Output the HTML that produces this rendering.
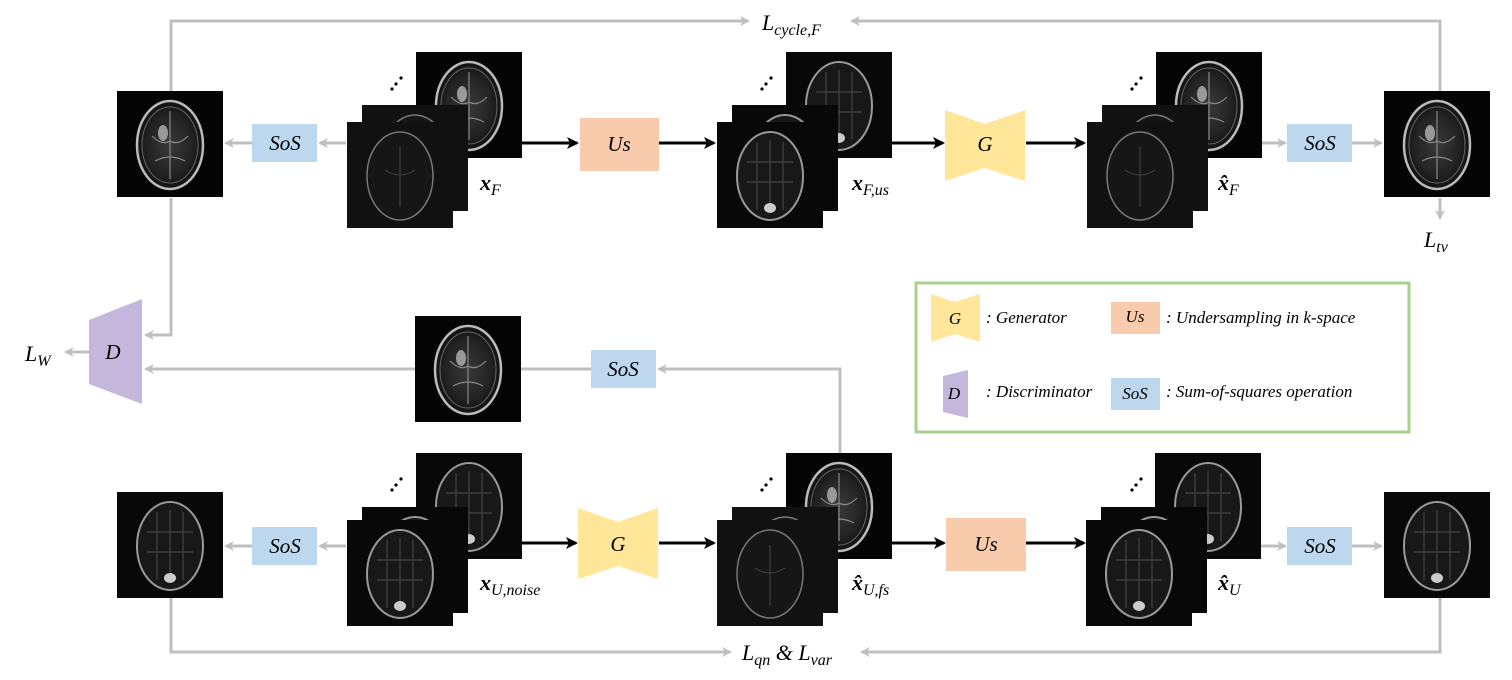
<!DOCTYPE html>
<html><head><meta charset="utf-8"><style>
html,body{margin:0;padding:0;background:#fff;}
svg{display:block;}
.m{font-family:"Liberation Serif",serif;font-style:italic;}
.b{font-weight:bold;}
.leg{font-family:"Liberation Serif",serif;font-style:italic;font-size:17px;}
</style></head><body>
<svg width="1512" height="680" viewBox="0 0 1512 680" xmlns="http://www.w3.org/2000/svg">
<defs>
<marker id="ag" markerWidth="10" markerHeight="10" refX="8" refY="5" orient="auto" markerUnits="userSpaceOnUse"><path d="M0,0 L10,5 L0,10 L3,5 z" fill="#bfbfbf"/></marker>
<marker id="ab" markerWidth="12" markerHeight="12" refX="10" refY="6" orient="auto" markerUnits="userSpaceOnUse"><path d="M0,0 L12,6 L0,12 L3,6 z" fill="#000"/></marker>
<radialGradient id="rg" cx="50%" cy="50%" r="50%"><stop offset="0" stop-color="#3a3a3a"/><stop offset="0.7" stop-color="#222"/><stop offset="1" stop-color="#111"/></radialGradient>
<symbol id="brain" viewBox="0 0 106 106"><rect width="106" height="106" fill="#050505"/><ellipse cx="53" cy="54" rx="33" ry="44" fill="url(#rg)" stroke="#bbb" stroke-width="2.5"/><ellipse cx="53" cy="54" rx="28" ry="38" fill="none" stroke="#666" stroke-width="1"/><path d="M53,20 V88 M35,45 Q45,55 53,50 Q61,55 71,45 M38,70 Q53,62 68,70" stroke="#888" stroke-width="1.2" fill="none"/><ellipse cx="46" cy="42" rx="5" ry="8" fill="#999"/></symbol>
<symbol id="brainU" viewBox="0 0 106 106"><rect width="106" height="106" fill="#080808"/><ellipse cx="53" cy="54" rx="33" ry="44" fill="#181818" stroke="#999" stroke-width="2"/><path d="M53,18 V90 M30,40 H76 M30,60 H76 M40,20 V88 M66,20 V88" stroke="#444" stroke-width="1.2" fill="none"/><ellipse cx="53" cy="86" rx="6" ry="5" fill="#ccc"/></symbol>
<symbol id="brainN" viewBox="0 0 106 106"><rect width="106" height="106" fill="#111"/><ellipse cx="53" cy="54" rx="33" ry="44" fill="#161616" stroke="#777" stroke-width="1.5"/><path d="M53,25 V85 M38,48 Q53,58 68,48" stroke="#444" stroke-width="1" fill="none"/></symbol>
</defs>

<g fill="none" stroke="#bfbfbf" stroke-width="3">
<polyline points="171,91 171,21 748,21" marker-end="url(#ag)"/>
<polyline points="1440,91 1440,21 852,21" marker-end="url(#ag)"/>
<line x1="1440" y1="198" x2="1440" y2="218" marker-end="url(#ag)"/>
<line x1="346" y1="143" x2="320" y2="143" marker-end="url(#ag)"/>
<line x1="252" y1="143" x2="226" y2="143" marker-end="url(#ag)"/>
<line x1="1192" y1="143" x2="1285" y2="143" marker-end="url(#ag)"/>
<line x1="1352" y1="143" x2="1381" y2="143" marker-end="url(#ag)"/>
<polyline points="171,198 171,335 146,335" marker-end="url(#ag)"/>
<line x1="591" y1="369" x2="146" y2="369" marker-end="url(#ag)"/>
<polyline points="840,453 840,369 659,369" marker-end="url(#ag)"/>
<line x1="89" y1="352" x2="66" y2="352" marker-end="url(#ag)"/>
<line x1="346" y1="546" x2="320" y2="546" marker-end="url(#ag)"/>
<line x1="252" y1="546" x2="226" y2="546" marker-end="url(#ag)"/>
<line x1="1261" y1="546" x2="1285" y2="546" marker-end="url(#ag)"/>
<line x1="1352" y1="546" x2="1381" y2="546" marker-end="url(#ag)"/>
<polyline points="171,598 171,652 730,652" marker-end="url(#ag)"/>
<polyline points="1440,598 1440,652 862,652" marker-end="url(#ag)"/>
</g>
<g stroke="#000" stroke-width="3">
<line x1="521" y1="143" x2="577" y2="143" marker-end="url(#ab)"/>
<line x1="659" y1="143" x2="714" y2="143" marker-end="url(#ab)"/>
<line x1="892" y1="143" x2="943" y2="143" marker-end="url(#ab)"/>
<line x1="1026" y1="143" x2="1084" y2="143" marker-end="url(#ab)"/>
<line x1="521" y1="543" x2="576" y2="543" marker-end="url(#ab)"/>
<line x1="659" y1="543" x2="714" y2="543" marker-end="url(#ab)"/>
<line x1="892" y1="543" x2="944" y2="543" marker-end="url(#ab)"/>
<line x1="1026" y1="543" x2="1084" y2="543" marker-end="url(#ab)"/>
</g>

<use href="#brain" x="117" y="91" width="106" height="106"/>
<use href="#brain" x="416" y="52" width="106" height="106"/>
<use href="#brainN" x="362" y="105" width="106" height="106"/>
<use href="#brainN" x="347" y="122" width="106" height="106"/>
<use href="#brainU" x="786" y="52" width="106" height="106"/>
<use href="#brainU" x="732" y="105" width="106" height="106"/>
<use href="#brainU" x="717" y="122" width="106" height="106"/>
<use href="#brain" x="1156" y="52" width="106" height="106"/>
<use href="#brainN" x="1102" y="105" width="106" height="106"/>
<use href="#brainN" x="1087" y="122" width="106" height="106"/>
<use href="#brain" x="1384" y="91" width="106" height="106"/>
<use href="#brain" x="415" y="316" width="106" height="106"/>
<use href="#brainU" x="117" y="492" width="106" height="106"/>
<use href="#brainU" x="416" y="453" width="106" height="106"/>
<use href="#brainU" x="362" y="507" width="106" height="106"/>
<use href="#brainU" x="347" y="520" width="106" height="106"/>
<use href="#brain" x="786" y="453" width="106" height="106"/>
<use href="#brainN" x="732" y="507" width="106" height="106"/>
<use href="#brainN" x="717" y="520" width="106" height="106"/>
<use href="#brainU" x="1155" y="453" width="106" height="106"/>
<use href="#brainU" x="1101" y="507" width="106" height="106"/>
<use href="#brainU" x="1086" y="520" width="106" height="106"/>
<use href="#brainU" x="1384" y="492" width="106" height="106"/>

<g fill="#000">
<circle cx="392" cy="89" r="1.6"/><circle cx="396" cy="84" r="1.6"/><circle cx="401" cy="78" r="1.6"/>
<circle cx="762" cy="89" r="1.6"/><circle cx="766" cy="84" r="1.6"/><circle cx="771" cy="78" r="1.6"/>
<circle cx="1132" cy="89" r="1.6"/><circle cx="1136" cy="84" r="1.6"/><circle cx="1141" cy="78" r="1.6"/>
<circle cx="392" cy="490" r="1.6"/><circle cx="396" cy="485" r="1.6"/><circle cx="401" cy="479" r="1.6"/>
<circle cx="762" cy="490" r="1.6"/><circle cx="766" cy="485" r="1.6"/><circle cx="771" cy="479" r="1.6"/>
<circle cx="1132" cy="490" r="1.6"/><circle cx="1136" cy="485" r="1.6"/><circle cx="1141" cy="479" r="1.6"/>
</g>

<g class="m" font-size="21" text-anchor="middle">
<rect x="252" y="124" width="65" height="38" fill="#bdd7ee"/><text x="285" y="150">SoS</text>
<rect x="1287" y="124" width="65" height="38" fill="#bdd7ee"/><text x="1320" y="150">SoS</text>
<rect x="591" y="350" width="65" height="38" fill="#bdd7ee"/><text x="623" y="376">SoS</text>
<rect x="252" y="527" width="65" height="38" fill="#bdd7ee"/><text x="285" y="553">SoS</text>
<rect x="1287" y="527" width="65" height="38" fill="#bdd7ee"/><text x="1320" y="553">SoS</text>
<rect x="580" y="118" width="79" height="53" fill="#f8cbad"/><text x="619" y="151">Us</text>
<rect x="946" y="518" width="80" height="53" fill="#f8cbad"/><text x="986" y="551">Us</text>
<polygon points="945,110 985,124 1025,110 1025,181 985,168 945,181" fill="#ffe699"/><text x="985" y="151">G</text>
<polygon points="578,508 618,522 658,508 658,579 618,566 578,579" fill="#ffe699"/><text x="618" y="551">G</text>
<polygon points="89,320 142,299 142,404 89,384" fill="#c5b6db"/><text x="113" y="359">D</text>
</g>

<g class="m" font-size="22">
<text x="762" y="30">L<tspan font-size="16" dy="5">cycle,F</tspan></text>
<text x="25" y="361">L<tspan font-size="16" dy="5">W</tspan></text>
<text x="1424" y="247">L<tspan font-size="16" dy="5">tv</tspan></text>
<text x="742" y="660">L<tspan font-size="16" dy="5">qn</tspan><tspan dy="-5"> &amp; L</tspan><tspan font-size="16" dy="5">var</tspan></text>
<text x="480" y="190" class="m b">x<tspan font-size="16" dy="5" font-weight="normal">F</tspan></text>
<text x="852" y="190" class="m b">x<tspan font-size="16" dy="5" font-weight="normal">F,us</tspan></text>
<text x="1218" y="190" class="m b">x̂<tspan font-size="16" dy="5" font-weight="normal">F</tspan></text>
<text x="480" y="590" class="m b">x<tspan font-size="16" dy="5" font-weight="normal">U,noise</tspan></text>
<text x="852" y="590" class="m b">x̂<tspan font-size="16" dy="5" font-weight="normal">U,fs</tspan></text>
<text x="1218" y="590" class="m b">x̂<tspan font-size="16" dy="5" font-weight="normal">U</tspan></text>
</g>

<rect x="916" y="283" width="493" height="149" fill="#fff" stroke="#a9d18e" stroke-width="3"/>
<polygon points="931,294 955,302 980,294 980,342 955,334 931,342" fill="#ffe699"/>
<text x="955" y="324" class="leg" text-anchor="middle">G</text>
<text x="986" y="323" class="leg">: Generator</text>
<rect x="1111" y="302" width="49" height="32" fill="#f8cbad"/>
<text x="1135" y="322" class="leg" text-anchor="middle">Us</text>
<text x="1166" y="323" class="leg">: Undersampling in k-space</text>
<polygon points="943,376 968,370 968,418 943,412" fill="#c5b6db"/>
<text x="954" y="399" class="leg" text-anchor="middle">D</text>
<text x="986" y="397" class="leg">: Discriminator</text>
<rect x="1111" y="378" width="49" height="32" fill="#bdd7ee"/>
<text x="1135" y="399" class="leg" text-anchor="middle">SoS</text>
<text x="1166" y="397" class="leg">: Sum-of-squares operation</text>
</svg>
</body></html>
